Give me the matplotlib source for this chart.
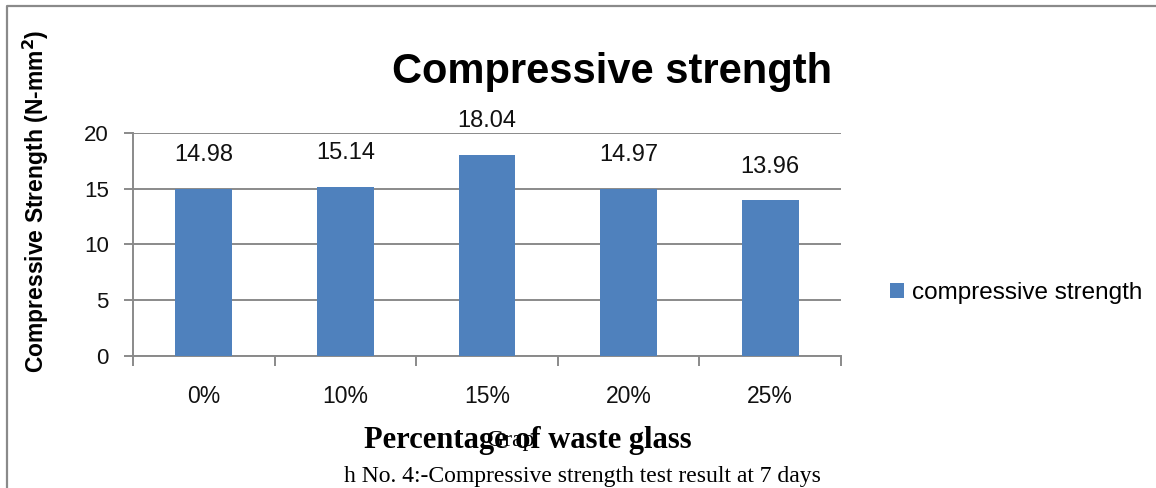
import matplotlib.pyplot as plt
from matplotlib.lines import Line2D
import numpy as np

categories = ["0%", "10%", "15%", "20%", "25%"]
strength = [14.98, 15.14, 18.04, 14.97, 13.96]
yticks = [0, 5, 10, 15, 20]

bar_color = "#4f81bd"
grey = "#8a8a8a"
sans = ["Liberation Sans", "DejaVu Sans"]
serif = ["Liberation Serif", "DejaVu Serif"]

plt.rcParams["font.family"] = sans

fig = plt.figure(figsize=(11.56, 4.88), dpi=100)
ax = fig.add_axes([133 / 1156, 1 - 356 / 488, (841 - 133) / 1156, (356 - 133) / 488])

x = np.arange(len(categories))
bars = ax.bar(x, strength, width=0.4, color=bar_color, zorder=3,
              label="compressive strength")
for b, v in zip(bars, strength):
    ax.annotate(f"{v:.2f}", (b.get_x() + b.get_width() / 2, v),
                xytext=(0, 20), textcoords="offset points",
                ha="center", va="baseline", fontsize=17, color="#111111")

ax.set_xlim(-0.5, len(categories) - 0.5)
ax.set_ylim(0, 20)
ax.set_yticks(yticks)
ax.set_yticklabels([str(t) for t in yticks])
ax.yaxis.grid(True, color=grey, linewidth=1.4, zorder=0)

ax.set_xticks(x)
ax.set_xticklabels(categories)
ax.set_xticks(np.arange(-0.5, len(categories)), minor=True)
ax.tick_params(axis="x", which="major", length=0, pad=21, labelsize=16.5,
               labelcolor="#111111")
ax.tick_params(axis="x", which="minor", length=7, width=1.4, color=grey)
ax.tick_params(axis="y", length=6.5, width=1.4, color=grey, pad=11,
               labelsize=16, labelcolor="#111111")

for side in ["top", "right"]:
    ax.spines[side].set_visible(False)
for side in ["left", "bottom"]:
    ax.spines[side].set_color(grey)
    ax.spines[side].set_linewidth(1.4)

fig.text(36 / 1156, 1 - 201 / 488, "Compressive Strength (N-mm$^{\\mathbf{2}}$)",
         fontsize=16.5, fontweight="bold", rotation=90, ha="center", va="center")

fig.text(612 / 1156, 1 - 83 / 488, "Compressive strength", fontsize=30,
         fontweight="bold", ha="center", va="baseline")

fig.legend(loc="center left", bbox_to_anchor=(880 / 1156, 1 - 293 / 488),
           frameon=False, fontsize=17.5, handlelength=0.6, handleheight=0.6,
           handletextpad=0.3, borderaxespad=0)

fig.text(528 / 1156, 1 - 448 / 488, "Percentage of waste glass",
         family=serif, fontsize=22, fontweight="bold", ha="center",
         va="baseline")
fig.text(487 / 1156, 1 - 446 / 488, "Grap", family=serif, fontsize=17,
         ha="left", va="baseline")
fig.text(582 / 1156, 1 - 482 / 488,
         "h No. 4:-Compressive strength test result at 7 days",
         family=serif, fontsize=17, ha="center", va="baseline")

# page frame along the top and left edges
fig.add_artist(Line2D([7 / 1156, 7 / 1156, 1], [0, 1 - 5.5 / 488, 1 - 5.5 / 488],
                      transform=fig.transFigure, color=grey, linewidth=1.6))

fig.savefig("out.png", dpi=100)
